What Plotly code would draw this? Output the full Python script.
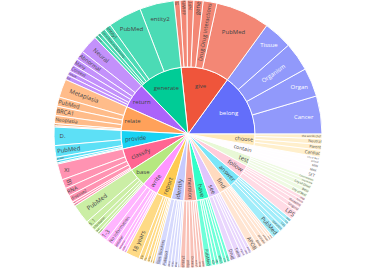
import plotly.graph_objects as go

# verbs in display order (counter-clockwise from 3 o'clock)
verbs = ["belong", "give", "generate", "return", "relate", "provide", "classify",
         "base", "write", "report", "identify", "mention", "have", "see", "find",
         "answer", "follow", "test", "contain", "choose"]

belong_nouns = ["Cancer", "Organ", "Organism", "Tissue"]
belong_vals = [16.5, 12.5, 12.5, 12.5]

give_nouns = ["PubMed", "Drug-Drug Interactions", "gene", "HPT", "NWHIP", "IIT"]
give_vals = [23.5, 6, 4, 3, 3, 2.5]

generate_nouns = ["entity2", "PubMed", "entity1", "Gene/Species/Anatomy", "text", "answer"]
generate_vals = [15, 14.5, 3, 2.5, 1.5, 1.5]

return_nouns = ["Neural", "Abnormal", "Many", "Context", "result", "list"]
return_vals = [8, 4, 3, 3, 2, 2]

relate_nouns = ["Metaplasia", "PubMed", "BRCA1", "Neoplasia", "gene", "drug"]
relate_vals = [8, 4, 4, 3.5, 1, 0.5]

provide_nouns = ["D.", "PubMed", "answer", "list", "text"]
provide_vals = [8, 5, 1.5, 1, 0.5]

classify_nouns = ["XI", "B)", "RNA", "disease2", "text", "gene"]
classify_vals = [7, 4, 3.5, 3, 1, 1]

base_nouns = ["PubMed", "s_1", "information", "text", "context"]
base_vals = [8.5, 3, 2, 1.5, 1]

write_nouns = ["1-3", "No information", "answer", "sentence", "code", "text"]
write_vals = [4, 3.5, 2.5, 1.5, 1.5, 1]

report_nouns = ["18 years", "5%", "0%", "value", "rate", "age"]
report_vals = [6, 2, 1.5, 1.5, 1, 1]

identify_nouns = ["Bias Blockers", "PubMed", "gene", "entity", "drug", "type"]
identify_vals = [3, 2.5, 1.5, 1.5, 1.5, 1]

mention_nouns = ["entity2", "input", "Disease", "entity1", "drug", "gene"]
mention_vals = [2.5, 2, 2, 1.5, 1.5, 1.5]

have_nouns = ["PubMed", "0", "4", "effect", "role", "value"]
have_vals = [3, 1.5, 1.5, 2, 1.5, 1.5]

see_nouns = ["Drug", "Table", "Figure", "text", "entity"]
see_vals = [3, 2.5, 1.5, 1.5, 1.5]

find_nouns = ["APOB", "gene", "protein", "answer", "entity", "drug"]
find_vals = [3.5, 2, 2, 1.5, 1, 1]

answer_nouns = ["PubMed", "question", "Yes", "No", "text"]
answer_vals = [4, 2, 2, 1.5, 1.5]

follow_nouns = ["LPS", "Gingerol", "Guideline", "format", "step"]
follow_vals = [4, 2, 2, 1.5, 1.5]

test_nouns = ["City of Bear", "Bear", "City of Ghost", "City of Sea", "Concentration"]
test_vals = [2, 2, 2, 1.5, 1.5]

contain_nouns = ["SET", "MAX", "MIN", "entity2", "City of Bear"]
contain_vals = [2.5, 2, 2, 1.5, 1.5]

choose_nouns = ["Cardiac", "Parent", "Neutral", "the world/chef"]
choose_vals = [3, 2.5, 2.5, 2]

children = {
    "belong": (belong_nouns, belong_vals), "give": (give_nouns, give_vals),
    "generate": (generate_nouns, generate_vals), "return": (return_nouns, return_vals),
    "relate": (relate_nouns, relate_vals), "provide": (provide_nouns, provide_vals),
    "classify": (classify_nouns, classify_vals), "base": (base_nouns, base_vals),
    "write": (write_nouns, write_vals), "report": (report_nouns, report_vals),
    "identify": (identify_nouns, identify_vals), "mention": (mention_nouns, mention_vals),
    "have": (have_nouns, have_vals), "see": (see_nouns, see_vals),
    "find": (find_nouns, find_vals), "answer": (answer_nouns, answer_vals),
    "follow": (follow_nouns, follow_vals), "test": (test_nouns, test_vals),
    "contain": (contain_nouns, contain_vals), "choose": (choose_nouns, choose_vals),
}

ids, labels, parents, values = [], [], [], []
for v in verbs:
    ids.append(v); labels.append(v); parents.append(""); values.append(0)
for v in verbs:
    nouns, vals = children[v]
    for n, val in zip(nouns, vals):
        ids.append(v + "/" + n); labels.append(n); parents.append(v); values.append(val)

fig = go.Figure(go.Sunburst(
    ids=ids, labels=labels, parents=parents, values=values,
    branchvalues="remainder", sort=False,
    textfont=dict(size=6),
    insidetextorientation="auto",
))
fig.update_layout(
    width=381, height=273,
    margin=dict(l=0, r=5, t=0, b=5),
    paper_bgcolor="white",
)
fig.write_html("out.html", config={"displayModeBar": False},
               post_script="document.body.style.margin='0';")
